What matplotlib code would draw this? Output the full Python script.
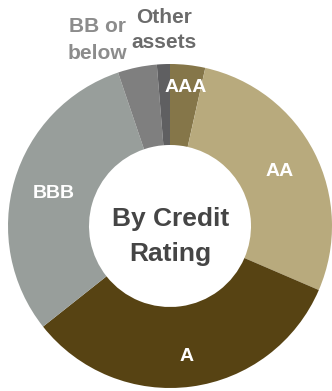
import matplotlib
matplotlib.use("Agg")
import matplotlib.pyplot as plt
import numpy as np

plt.rcParams['font.family'] = ['Liberation Sans', 'DejaVu Sans']

categories = ["AAA", "AA", "A", "BBB", "BB or\nbelow", "Other\nassets"]
shares = [3.5, 28.0, 32.9, 30.5, 3.9, 1.3]
colors = ["#857649", "#b8aa7d", "#574313", "#989e9b", "#7f7f7f", "#5f5f61"]
center_title = "By Credit\nRating"

fig = plt.figure(figsize=(3.32, 3.91), dpi=100)
W, H = 332, 391
cx, cy, R = 170, 226, 162
ax = fig.add_axes([(cx - R) / W, (H - cy - R) / H, 2 * R / W, 2 * R / H])
ax.set_aspect('equal')

wedges, _ = ax.pie(shares, colors=colors, startangle=90, counterclock=False,
                   radius=1.0, wedgeprops=dict(width=0.5, linewidth=0))
ax.set_xlim(-1, 1)
ax.set_ylim(-1, 1)
ax.axis('off')

# inside labels (white) for the four big slices
inner_r = [0.87, 0.76, 0.80, 0.75]
for w, lab, r in zip(wedges[:4], categories[:4], inner_r):
    ang = np.deg2rad((w.theta1 + w.theta2) / 2)
    ax.text(r * np.cos(ang), r * np.sin(ang) - 0.012, lab, ha='center', va='center',
            color='white', fontsize=14, fontweight='bold')

# outside labels for small slices
ax.text(-0.45, 1.15, categories[4], ha='center', va='center', color='#8c8c8c',
        fontsize=15, fontweight='bold', linespacing=1.55)
ax.text(-0.035, 1.21, categories[5], ha='center', va='center', color='#6b6b6b',
        fontsize=15, fontweight='bold', linespacing=1.4)

ax.text(0.005, -0.063, center_title, ha='center', va='center', color='#454545',
        fontsize=19, fontweight='bold', linespacing=1.6)

fig.savefig("out.png", dpi=100)
